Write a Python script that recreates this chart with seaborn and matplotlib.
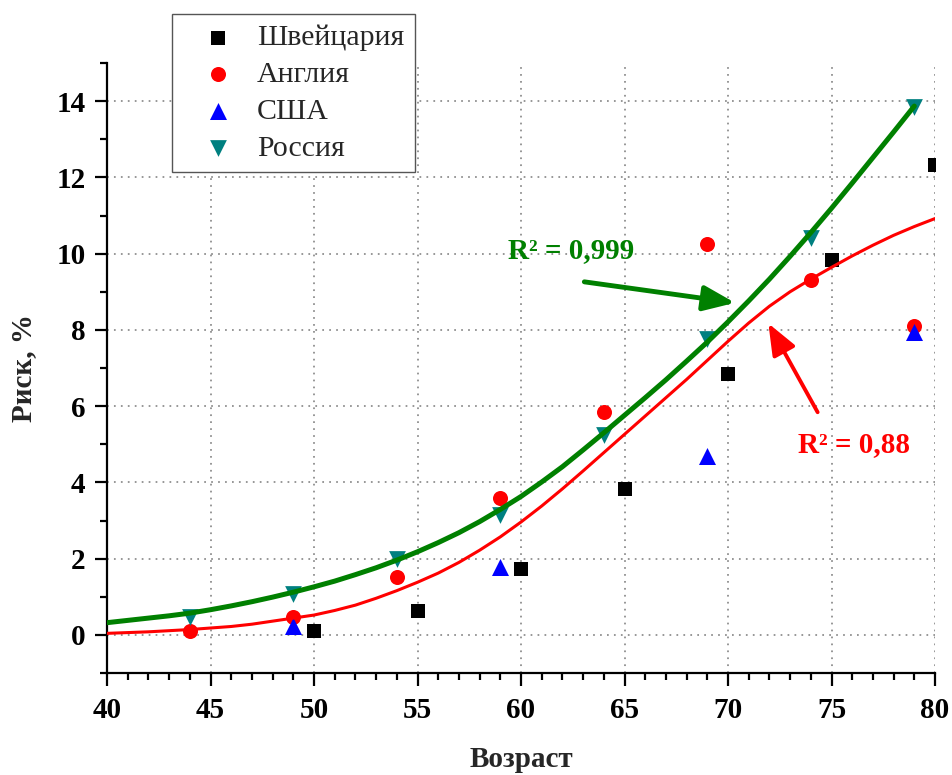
import matplotlib
matplotlib.use("Agg")
import matplotlib.pyplot as plt
from matplotlib.ticker import MultipleLocator
import seaborn as sns

# --- measured points -------------------------------------------------------
swiss_age = [50, 55, 60, 65, 70, 75, 80]
swiss_risk = [0.11, 0.63, 1.72, 3.83, 6.83, 9.82, 12.32]

england_age = [44, 49, 54, 59, 64, 69, 74, 79]
england_risk = [0.09, 0.46, 1.51, 3.58, 5.84, 10.26, 9.32, 8.11]

usa_age = [49, 59, 69, 79]
usa_risk = [0.23, 1.77, 4.68, 7.95]

russia_age = [44, 49, 54, 59, 64, 69, 74, 79]
russia_risk = [0.48, 1.06, 1.99, 3.15, 5.24, 7.76, 10.40, 13.85]

# --- fitted trend curves (one value per year of age) -----------------------
russia_fit_age = list(range(40, 80))
russia_fit_risk = [0.32, 0.38, 0.44, 0.50, 0.57, 0.66, 0.76, 0.87, 0.99, 1.12,
                   1.26, 1.41, 1.58, 1.76, 1.96, 2.18, 2.42, 2.68, 2.97, 3.29,
                   3.63, 4.01, 4.41, 4.85, 5.30, 5.76, 6.22, 6.69, 7.18, 7.68,
                   8.21, 8.76, 9.33, 9.93, 10.55, 11.19, 11.85, 12.52, 13.19,
                   13.87]

england_fit_age = list(range(40, 81))
england_fit_risk = [0.04, 0.06, 0.08, 0.11, 0.14, 0.18, 0.22, 0.28, 0.36, 0.44,
                    0.52, 0.64, 0.78, 0.96, 1.16, 1.38, 1.62, 1.90, 2.22, 2.57,
                    2.96, 3.38, 3.83, 4.30, 4.78, 5.26, 5.74, 6.22, 6.70, 7.20,
                    7.70, 8.18, 8.62, 9.00, 9.33, 9.64, 9.94, 10.22, 10.48,
                    10.71, 10.92]

r2_russia = "0,999"
r2_england = "0,88"

# --- style -----------------------------------------------------------------
sns.set_style("ticks")
plt.rcParams["font.family"] = ["Liberation Serif", "DejaVu Serif"]

GREEN = "#008000"
RED = "#FF0000"
BLUE = "#0000FF"
TEAL = "#008080"

fig = plt.figure(figsize=(9.52, 7.75), dpi=100)
ax = fig.add_axes([107 / 952, 1 - 673 / 775, (935 - 107) / 952, (673 - 63) / 775])

series = [
    ("Швейцария", swiss_age, swiss_risk, "s", "black", 88),
    ("Англия", england_age, england_risk, "o", RED, 117),
    ("США", usa_age, usa_risk, "^", BLUE, 150),
    ("Россия", russia_age, russia_risk, "v", TEAL, 145),
]
for name, xs, ys, mk, col, size in series:
    sns.scatterplot(x=xs, y=ys, marker=mk, color=col, s=size, linewidth=0,
                    label=name, ax=ax, zorder=3, clip_on=True)

sns.lineplot(x=england_fit_age, y=england_fit_risk, color=RED, lw=2.2,
             ax=ax, legend=False, zorder=4, sort=False)
sns.lineplot(x=russia_fit_age, y=russia_fit_risk, color=GREEN, lw=3.6,
             ax=ax, legend=False, zorder=5, sort=False)

# --- axes ------------------------------------------------------------------
ax.set_xlim(40, 80)
ax.set_ylim(-1, 15)
ax.xaxis.set_major_locator(MultipleLocator(5))
ax.xaxis.set_minor_locator(MultipleLocator(1))
ax.yaxis.set_major_locator(MultipleLocator(2))
ax.yaxis.set_minor_locator(MultipleLocator(1))

for side in ("top", "right"):
    ax.spines[side].set_visible(False)
for side in ("left", "bottom"):
    ax.spines[side].set_linewidth(1.6)
    ax.spines[side].set_color("black")

ax.tick_params(which="major", direction="out", length=9, width=1.6,
               labelsize=21, colors="black")
ax.tick_params(axis="x", which="major", pad=8)
ax.tick_params(axis="y", which="major", pad=6.5)
ax.tick_params(which="minor", direction="out", length=5, width=1.6,
               colors="black")
for lab in ax.get_xticklabels() + ax.get_yticklabels():
    lab.set_fontweight("bold")

ax.grid(True, which="major", color="#8a8a8a", linestyle=(0, (1, 3)),
        linewidth=1.25)
ax.set_axisbelow(True)
fig.canvas.draw()
ax.get_xgridlines()[-1].set_visible(False)

ax.set_xlabel("Возраст", fontsize=21, fontweight="bold", labelpad=16)
ax.set_ylabel("Риск, %", fontsize=21, fontweight="bold", labelpad=14)

# --- annotations -----------------------------------------------------------
ax.text(59.37, 9.88, f"R² = {r2_russia}", color=GREEN, fontsize=21,
        fontweight="bold", ha="left", va="baseline", zorder=6)
ax.annotate("", xy=(70.34, 8.71), xytext=(63.06, 9.26),
            arrowprops=dict(arrowstyle="-|>,head_length=0.6,head_width=0.24",
                            color=GREEN, lw=3.5, mutation_scale=32,
                            shrinkA=0, shrinkB=0), zorder=6)

ax.text(73.38, 4.80, f"R² = {r2_england}", color=RED, fontsize=21,
        fontweight="bold", ha="left", va="baseline", zorder=6)
ax.annotate("", xy=(71.95, 8.17), xytext=(74.33, 5.84),
            arrowprops=dict(arrowstyle="-|>,head_length=0.6,head_width=0.24",
                            color=RED, lw=2.8, mutation_scale=32,
                            shrinkA=0, shrinkB=0), zorder=6)

# --- legend ----------------------------------------------------------------
handles, labels = ax.get_legend_handles_labels()
leg = ax.legend(handles, labels, loc="upper left",
                bbox_to_anchor=(172 / 952, 1 - 14 / 775),
                bbox_transform=fig.transFigure, frameon=True, fancybox=False,
                edgecolor="#555555", framealpha=1, fontsize=21.5,
                handlelength=2.4, handletextpad=0.1, borderpad=0.35,
                labelspacing=0.33, borderaxespad=0)
leg.get_frame().set_linewidth(1.0)

fig.savefig("out.png", dpi=100)
